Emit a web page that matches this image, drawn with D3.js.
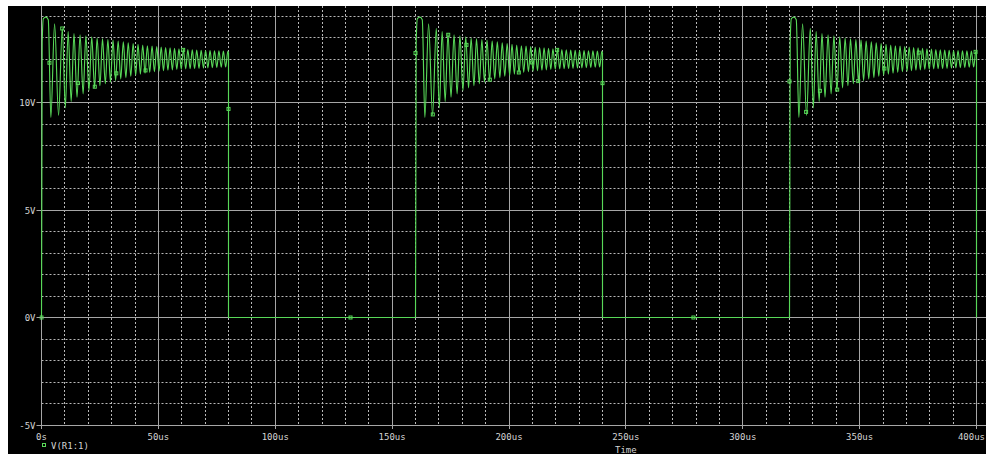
<!DOCTYPE html>
<html>
<head>
<meta charset="utf-8">
<script src="https://cdn.jsdelivr.net/npm/d3@7"></script>
<style>
  html, body { margin: 0; padding: 0; background: #ffffff; }
  svg { display: block; }
  text { font-family: "DejaVu Sans Mono", "Liberation Mono", monospace; font-size: 9px; fill: #d4d4d4; }
</style>
</head>
<body>
<svg id="chart" width="986" height="454"></svg>
<script>
// Axis ticks and their labels
const timeTicks = [0, 50, 100, 150, 200, 250, 300, 350, 400];
const timeLabels = ["0s", "50us", "100us", "150us", "200us", "250us", "300us", "350us", "400us"];
const voltTicks = [-5, 0, 5, 10];
const voltLabels = ["-5V", "0V", "5V", "10V"];

// Pulse edges (us)
const pulseRise = [0, 160, 320];
const pulseFall = [80, 240, 400];

// Ringing on the high level, time from the rising edge (us) and voltage (V)
const ringTimes = [
  0, 0.3, 0.8, 1.9, 2.9,
  4.0, 5.6, 7.3, 8.9, 10.2, 11.4, 12.7, 13.9, 15.2, 16.5, 17.8, 19.0, 20.3, 21.5,
  22.7, 23.8, 25.0, 26.1, 27.3, 28.4, 29.5, 30.6, 31.7, 32.8, 33.9, 35.0, 36.1, 37.1,
  38.2, 39.2, 40.3, 41.3, 42.3, 43.3, 44.3, 45.3, 46.3, 47.3, 48.3, 49.3, 50.3, 51.2,
  52.2, 53.1, 54.1, 55.0, 56.0, 56.9, 57.9, 58.8, 59.8, 60.7, 61.7, 62.6, 63.6, 64.5,
  65.5, 66.4, 67.4, 68.3, 69.3, 70.2, 71.2, 72.1, 73.1, 74.0, 75.0, 75.9, 76.9, 77.8,
  78.8, 79.7, 80
];
const ringVolts = [
  0, 12.8, 13.9, 13.97, 13.85,
  9.3, 13.66, 9.4, 13.45, 9.75, 13.3, 10.05, 13.2, 10.25, 13.15, 10.4, 13.1, 10.55, 13.05,
  10.68, 13.0, 10.78, 12.96, 10.87, 12.93, 10.95, 12.9, 11.02, 12.86, 11.1, 12.82, 11.16, 12.78,
  11.22, 12.74, 11.27, 12.7, 11.32, 12.67, 11.36, 12.64, 11.4, 12.62, 11.43, 12.6, 11.46, 12.58,
  11.48, 12.56, 11.5, 12.54, 11.52, 12.52, 11.54, 12.5, 11.55, 12.48, 11.56, 12.46, 11.57, 12.45,
  11.58, 12.44, 11.59, 12.43, 11.6, 12.42, 11.61, 12.41, 11.62, 12.4, 11.63, 12.4, 11.64, 12.39,
  11.65, 12.38, 12.3
];

// Trace symbols (us, V); null voltage means the symbol sits on the ringing curve
const markerTimes = [0, 3.4, 8.86, 15.6, 22.8, 32.0, 44.5, 60.6, 80, 132.2,
  160, 167.4, 174.0, 181.8, 191.8, 204.2, 209.9, 220.6, 240, 278.9,
  320, 327.1, 333.0, 340.4, 349.4, 360.6, 375.3, 399.6];
const markerVolts = [0, null, null, null, null, null, null, null, 9.7, 0,
  12.3, null, null, null, null, null, null, null, 10.9, 0,
  10.98, null, null, null, null, null, null, null];

const traceName = "V(R1:1)";

const W = 986, H = 454;
const plot = { left: 41.5, right: 976.5, top: 5.75, bottom: 425 };

const svg = d3.select("#chart");

// Black screen
svg.append("rect").attr("x", 8).attr("y", 6).attr("width", W - 8).attr("height", H - 6).attr("fill", "#000000");

const x = d3.scaleLinear().domain([0, 400]).range([plot.left, plot.right]);
const y = d3.scaleLinear().domain([-5, 14.5]).range([plot.bottom, plot.top]);

const gridColor = "#a6a6a6";
const dotColor = "#b8b8b8";
const px = v => Math.floor(v) + 0.5;

// Minor dotted grid
const grid = svg.append("g");
const minorT = x.ticks(40).filter(t => !timeTicks.includes(t));
const minorV = d3.range(-4, 15, 1).filter(v => !voltTicks.includes(v));
grid.selectAll(".mx").data(minorT).join("line")
  .attr("x1", d => px(x(d))).attr("x2", d => px(x(d)))
  .attr("y1", 6).attr("y2", plot.bottom)
  .attr("stroke", dotColor).attr("stroke-width", 1).attr("stroke-dasharray", "2,2");
grid.selectAll(".my").data(minorV).join("line")
  .attr("x1", plot.left).attr("x2", W)
  .attr("y1", d => px(y(d))).attr("y2", d => px(y(d)))
  .attr("stroke", dotColor).attr("stroke-width", 1).attr("stroke-dasharray", "2,2");

// Major solid grid
grid.selectAll(".Mx").data(timeTicks).join("line")
  .attr("x1", d => px(x(d))).attr("x2", d => px(x(d)))
  .attr("y1", 6).attr("y2", plot.bottom + 4)
  .attr("stroke", gridColor).attr("stroke-width", 1);
grid.selectAll(".My").data(voltTicks).join("line")
  .attr("x1", plot.left - 5).attr("x2", W)
  .attr("y1", d => px(y(d))).attr("y2", d => px(y(d)))
  .attr("stroke", gridColor).attr("stroke-width", 1);

// Tick labels (the last one is kept inside the window)
svg.append("g").selectAll("text").data(timeTicks).join("text")
  .attr("x", (d, i) => i === timeTicks.length - 1 ? W - 1 : x(d))
  .attr("y", 439.5)
  .attr("text-anchor", (d, i) => i === timeTicks.length - 1 ? "end" : "middle")
  .text((d, i) => timeLabels[i]);
svg.append("g").selectAll("text").data(voltTicks).join("text")
  .attr("x", 35.5).attr("y", d => y(d) + 3.5)
  .attr("text-anchor", "end")
  .text((d, i) => voltLabels[i]);

// Trace
const traceColor = "#58d858";
svg.append("clipPath").attr("id", "plotclip").append("rect")
  .attr("x", plot.left - 2).attr("y", 6).attr("width", W - plot.left + 2).attr("height", plot.bottom - 5);
const trace = svg.append("g").attr("clip-path", "url(#plotclip)");

const ringLine = d3.line().x(d => x(d[0])).y(d => y(d[1])).curve(d3.curveMonotoneX);
const edgeLine = d3.line().x(d => x(d[0])).y(d => y(d[1]));

const highPaths = pulseRise.map((s, i) => {
  const pts = ringTimes.map((t, k) => [s + t, ringVolts[k]]);
  return trace.append("path").attr("d", ringLine(pts))
    .attr("fill", "none").attr("stroke", traceColor).attr("stroke-width", 1.15);
});
pulseFall.forEach((f, i) => {
  const endV = ringVolts[ringVolts.length - 1];
  const pts = [[f, endV], [f, 0]];
  if (i + 1 < pulseRise.length) pts.push([pulseRise[i + 1], 0]);
  trace.append("path").attr("d", edgeLine(pts))
    .attr("fill", "none").attr("stroke", traceColor).attr("stroke-width", 1.15);
});

// Place a symbol on the ringing curve at a given time
function pointOnPath(pathSel, px0) {
  const node = pathSel.node();
  let lo = 0, hi = node.getTotalLength();
  for (let k = 0; k < 40; k++) {
    const mid = (lo + hi) / 2;
    if (node.getPointAtLength(mid).x < px0) lo = mid; else hi = mid;
  }
  return node.getPointAtLength(hi);
}

const markerPts = markerTimes.map((t, i) => {
  const v = markerVolts[i];
  if (v !== null) return { x: x(t), y: y(v) };
  const idx = pulseRise.findIndex((s, k) => t >= s && t <= pulseFall[k]);
  const p = pointOnPath(highPaths[idx], x(t));
  return { x: p.x, y: p.y };
});
trace.selectAll(".mk").data(markerPts).join("rect")
  .attr("x", d => d.x - 1.5).attr("y", d => d.y - 1.5)
  .attr("width", 3).attr("height", 3)
  .attr("fill", "none").attr("stroke", traceColor).attr("stroke-width", 1);

// Legend
svg.append("rect").attr("x", 42.5).attr("y", 443.5).attr("width", 3).attr("height", 3)
  .attr("fill", "none").attr("stroke", traceColor).attr("stroke-width", 1);
svg.append("text").attr("x", 51).attr("y", 448.5).text(traceName);

// Axis title under the time axis
svg.append("text").attr("x", 615).attr("y", 453).text("Time");
</script>
</body>
</html>
